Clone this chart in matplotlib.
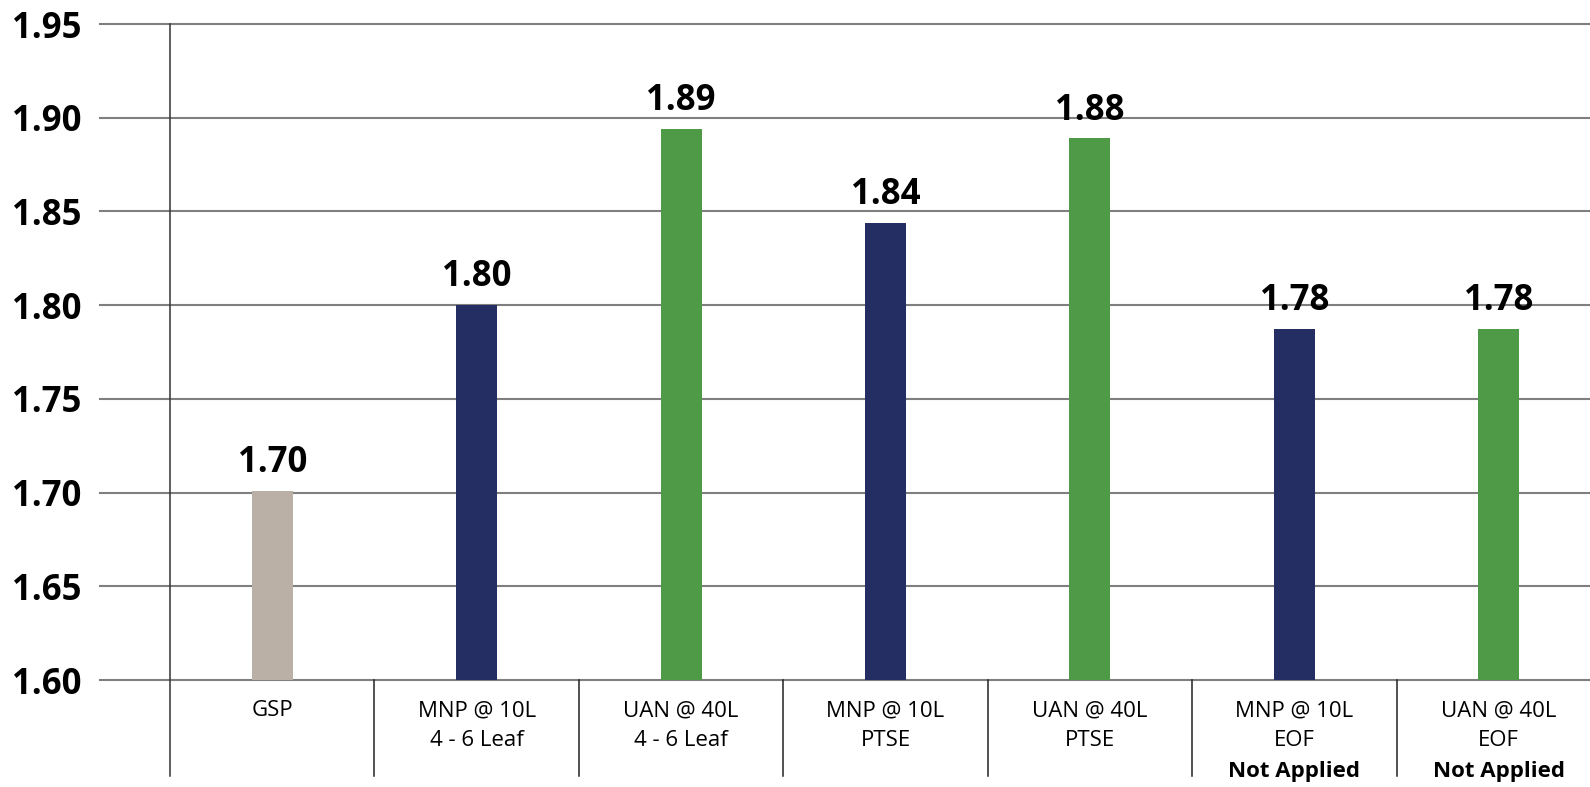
import matplotlib
matplotlib.use('Agg')
import matplotlib.pyplot as plt

plt.rcParams['font.family'] = ['Open Sans', 'DejaVu Sans']

# data
line1 = ['GSP', 'MNP @ 10L', 'UAN @ 40L', 'MNP @ 10L', 'UAN @ 40L', 'MNP @ 10L', 'UAN @ 40L']
line2 = ['', '4 - 6 Leaf', '4 - 6 Leaf', 'PTSE', 'PTSE', 'EOF', 'EOF']
notes = ['', '', '', '', '', 'Not Applied', 'Not Applied']
values = [1.701, 1.800, 1.894, 1.844, 1.889, 1.7875, 1.7875]
value_labels = ['1.70', '1.80', '1.89', '1.84', '1.88', '1.78', '1.78']
yticks = [1.60, 1.65, 1.70, 1.75, 1.80, 1.85, 1.90, 1.95]

gray = '#bab0a5'
navy = '#242e62'
green = '#4e9a47'
colors = [gray, navy, green, navy, green, navy, green]

W, H = 1590, 787
fig = plt.figure(figsize=(W / 100, H / 100), dpi=100)
ax_l, ax_r, ax_b, ax_t = 170, 1601, 680, 24
ax = fig.add_axes([ax_l / W, 1 - ax_b / H, (ax_r - ax_l) / W, (ax_b - ax_t) / H])
ax_w = ax_r - ax_l
ax_h = ax_b - ax_t

x = list(range(len(values)))
ax.bar(x, values, width=0.2, color=colors, zorder=3)
ax.set_xlim(-0.5, 6.5)
ax.set_ylim(1.60, 1.95)

for s in ax.spines.values():
    s.set_visible(False)

# gridlines extend left past the axis
for y in yticks:
    ax.axhline(y, xmin=(100 - ax_l) / ax_w, xmax=1, color='#7f7f7f', lw=1.5,
               clip_on=False, zorder=1)

# left axis line and category separators running down below the plot
bottom_px = 776
ax.axvline(-0.5, ymin=(ax_b - bottom_px) / ax_h, ymax=1, color='#333333', lw=1.1,
           clip_on=False, zorder=2)
for i in range(len(values) - 1):
    ax.axvline(i + 0.5, ymin=(ax_b - bottom_px) / ax_h, ymax=0, color='#222222', lw=1.1,
               clip_on=False, zorder=2)

ax.set_xticks([])
ax.set_yticks(yticks)
ax.set_yticklabels([f'{v:.2f}' for v in yticks], fontsize=25, fontweight='bold')
ax.tick_params(axis='y', length=0, pad=64)

for xi, v, lab in zip(x, values, value_labels):
    ax.annotate(lab, (xi, v), xytext=(0, 7), textcoords='offset points',
                ha='center', va='bottom', fontsize=25, fontweight='bold')

tr = ax.get_xaxis_transform()
for xi, a, b, c in zip(x, line1, line2, notes):
    ax.text(xi, (ax_b - 716) / ax_h, a, transform=tr, ha='center', va='baseline', fontsize=16)
    if b:
        ax.text(xi, (ax_b - 746) / ax_h, b, transform=tr, ha='center', va='baseline', fontsize=16)
    if c:
        ax.text(xi, (ax_b - 777) / ax_h, c, transform=tr, ha='center', va='baseline',
                fontsize=16, fontweight='bold')

fig.savefig('out.png', dpi=100)
